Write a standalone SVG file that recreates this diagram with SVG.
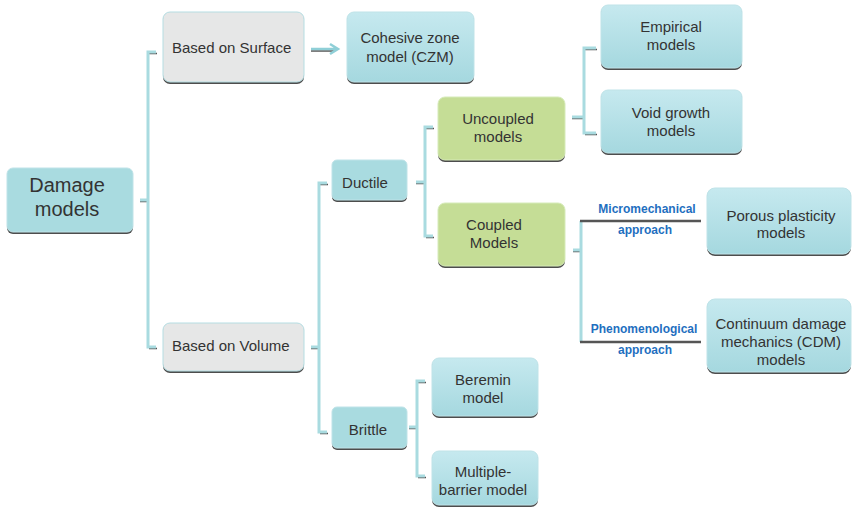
<svg xmlns="http://www.w3.org/2000/svg" width="852" height="508" viewBox="0 0 852 508">
<defs>
<linearGradient id="gb" x1="0" y1="0" x2="0" y2="1"><stop offset="0" stop-color="#c6e9ef"/><stop offset="1" stop-color="#a5d8df"/></linearGradient>
</defs>
<style>
.sh{fill:#4d4d4d}
.blue{fill:url(#gb);stroke:#bfe3e8;stroke-width:1}
.teal{fill:#a9dbe0;stroke:#bfe3e8;stroke-width:1}
.gray{fill:#e6e7e7;stroke:#b5dde2;stroke-width:1}
.green{fill:#c5dd96;stroke:#d6ebb9;stroke-width:1}
text{font-family:"Liberation Sans",Arial,sans-serif;font-size:15px;fill:#333}
.c{text-anchor:middle}
.big{font-size:20px}
.lab{font-size:12px;font-weight:bold;fill:#1f6fc0;text-anchor:middle}
.br{fill:none;stroke:#a9dbe0;stroke-width:3}
.tip{fill:none;stroke:#555;stroke-width:1.5}
.hl{fill:none;stroke:#555;stroke-width:2.5}
</style>
<g id="connectors">
<!-- root bracket -->
<path class="tip" d="M140,201.5 H148 M149,53.5 H157 M149,348.5 H157"/>
<path class="br" d="M140,200 H148 M156,52 H148 V347 H156"/>
<!-- surface arrow -->
<path d="M311,51 H334" stroke="#555" stroke-width="1.5" fill="none"/>
<path d="M311,49 H336 M330,44 L338,49 L330,54" stroke="#8fcfd7" stroke-width="2.5" fill="none" stroke-linejoin="miter"/>
<!-- volume bracket -->
<path class="tip" d="M311,348.5 H319 M320,184.5 H328 M320,433.5 H328"/>
<path class="br" d="M311,347 H319 M327,183 H319 V432 H327"/>
<!-- ductile bracket -->
<path class="tip" d="M416,183.5 H425 M426,128.5 H434 M426,237.5 H434"/>
<path class="br" d="M416,182 H425 M433,127 H425 V236 H433"/>
<!-- uncoupled bracket -->
<path class="tip" d="M572,118.5 H584 M585,49.5 H597 M585,134.5 H597"/>
<path class="br" d="M572,117 H584 M596,48 H584 V133 H596"/>
<!-- coupled bracket -->
<path class="tip" d="M573,251.5 H581"/>
<path class="br" d="M573,250 H581 M581,221 V342"/>
<path class="hl" d="M580,221 H701 M580,342 H701"/>
<!-- brittle bracket -->
<path class="tip" d="M409,428.5 H417 M418,382.5 H426 M418,477.5 H426"/>
<path class="br" d="M409,427 H417 M425,381 H417 V476 H425"/>
<text class="lab" x="647" y="213">Micromechanical</text>
<text class="lab" x="645" y="234">approach</text>
<text class="lab" x="644" y="333">Phenomenological</text>
<text class="lab" x="645" y="354">approach</text>
</g>
<g id="damage"><rect class="sh" x="7" y="170" width="126" height="64" rx="6"/><rect class="teal" x="7" y="168" width="126" height="64" rx="6"/><text class="c big" x="67" y="192">Damage</text><text class="c big" x="67" y="216">models</text></g>
<g id="surface"><rect class="sh" x="163" y="14" width="141" height="70" rx="7"/><rect class="gray" x="163" y="12" width="141" height="70" rx="7"/><text x="172" y="53">Based on Surface</text></g>
<g id="czm"><rect class="sh" x="347" y="14" width="127" height="70" rx="7"/><rect class="blue" x="347" y="12" width="127" height="70" rx="7"/><text class="c" x="410" y="43">Cohesive zone</text><text class="c" x="410" y="62">model (CZM)</text></g>
<g id="volume"><rect class="sh" x="163" y="325" width="141" height="48" rx="7"/><rect class="gray" x="163" y="323" width="141" height="48" rx="7"/><text x="172" y="351">Based on Volume</text></g>
<g id="ductile"><rect class="sh" x="332" y="162" width="75" height="40" rx="5"/><rect class="teal" x="332" y="160" width="75" height="40" rx="5"/><text class="c" x="365" y="188">Ductile</text></g>
<g id="brittle"><rect class="sh" x="332" y="409" width="75" height="41" rx="5"/><rect class="teal" x="332" y="407" width="75" height="41" rx="5"/><text class="c" x="368" y="435">Brittle</text></g>
<g id="uncoupled"><rect class="sh" x="438" y="99" width="127" height="63" rx="7"/><rect class="green" x="438" y="97" width="127" height="63" rx="7"/><text class="c" x="498" y="124">Uncoupled</text><text class="c" x="498" y="142">models</text></g>
<g id="coupled"><rect class="sh" x="438" y="205" width="127" height="63" rx="7"/><rect class="green" x="438" y="203" width="127" height="63" rx="7"/><text class="c" x="494" y="230">Coupled</text><text class="c" x="494" y="248">Models</text></g>
<g id="empirical"><rect class="sh" x="601" y="7" width="141" height="63" rx="7"/><rect class="blue" x="601" y="5" width="141" height="63" rx="7"/><text class="c" x="671" y="32">Empirical</text><text class="c" x="671" y="50">models</text></g>
<g id="void"><rect class="sh" x="601" y="92" width="141" height="63" rx="7"/><rect class="blue" x="601" y="90" width="141" height="63" rx="7"/><text class="c" x="671" y="118">Void growth</text><text class="c" x="671" y="136">models</text></g>
<g id="porous"><rect class="sh" x="707" y="190" width="144" height="66" rx="8"/><rect class="blue" x="707" y="188" width="144" height="66" rx="8"/><text class="c" x="781" y="221">Porous plasticity</text><text class="c" x="781" y="238">models</text></g>
<g id="cdm"><rect class="sh" x="707" y="301" width="144" height="73" rx="8"/><rect class="blue" x="707" y="299" width="144" height="73" rx="8"/><text class="c" x="781" y="329">Continuum damage</text><text class="c" x="781" y="347">mechanics (CDM)</text><text class="c" x="781" y="365">models</text></g>
<g id="beremin"><rect class="sh" x="432" y="360" width="106" height="58" rx="7"/><rect class="blue" x="432" y="358" width="106" height="58" rx="7"/><text class="c" x="483" y="385">Beremin</text><text class="c" x="483" y="403">model</text></g>
<g id="multiple"><rect class="sh" x="432" y="453" width="106" height="54" rx="7"/><rect class="blue" x="432" y="451" width="106" height="54" rx="7"/><text class="c" x="483" y="477">Multiple-</text><text class="c" x="483" y="495">barrier model</text></g>
</svg>
